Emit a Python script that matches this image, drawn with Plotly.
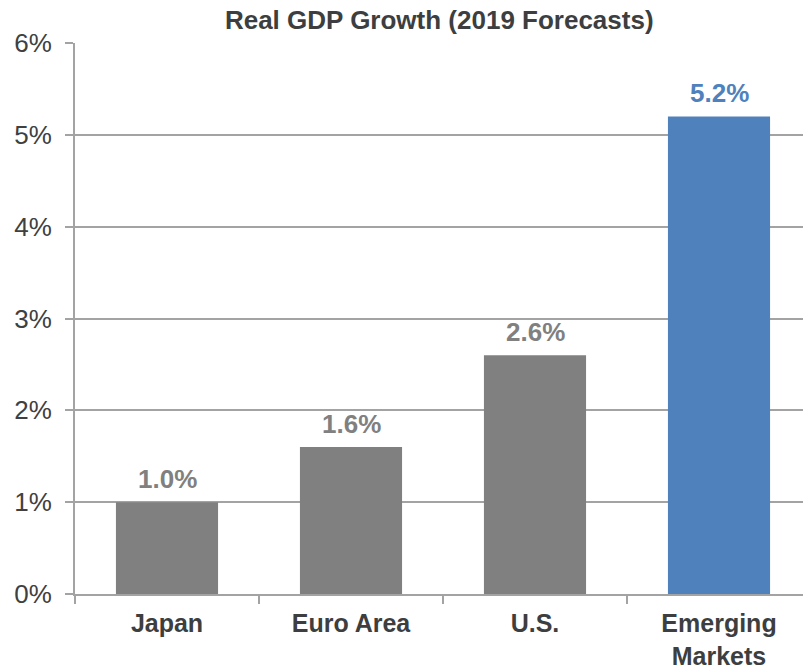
import plotly.graph_objects as go

# Real GDP growth forecasts for 2019, in percent
regions = ["Japan", "Euro Area", "U.S.", "Emerging<br>Markets"]
growth = [1.0, 1.6, 2.6, 5.2]
bar_colors = ["#808080", "#808080", "#808080", "#4F81BD"]
label_colors = ["#808080", "#808080", "#808080", "#4F81BD"]
y_ticks = [0, 1, 2, 3, 4, 5, 6]

AXIS_GREY = "#A3A3A3"
TEXT_DARK = "#3C3E40"
FONT = "Liberation Sans, Arial, sans-serif"

fig = go.Figure(
    go.Bar(
        x=regions,
        y=growth,
        marker=dict(color=bar_colors, line=dict(width=0)),
        width=0.555,
        hoverinfo="skip",
    )
)

# value labels above each bar
for reg, val, col in zip(regions, growth, label_colors):
    fig.add_annotation(
        x=reg,
        y=val,
        text=f"<b>{val:.1f}%</b>",
        showarrow=False,
        yanchor="bottom",
        yshift=6,
        font=dict(family=FONT, size=26, color=col),
    )

fig.update_layout(
    width=803,
    height=668,
    margin=dict(l=75, r=0, t=43, b=74, autoexpand=False),
    paper_bgcolor="white",
    plot_bgcolor="white",
    showlegend=False,
    title=dict(
        text="<b>Real GDP Growth (2019 Forecasts)</b>",
        x=0.547,
        xanchor="center",
        y=0.97,
        yanchor="middle",
        font=dict(family=FONT, size=26, color=TEXT_DARK),
    ),
)

fig.update_xaxes(
    type="category",
    range=[-0.5, 3.4565],
    automargin=False,
    showgrid=False,
    showline=True,
    linecolor=AXIS_GREY,
    linewidth=2,
    ticks="outside",
    tickson="boundaries",
    ticklen=8,
    tickwidth=2,
    tickcolor=AXIS_GREY,
    ticklabelstandoff=6,
    tickfont=dict(family=FONT, size=25, color=TEXT_DARK, weight="bold"),
    fixedrange=True,
)

fig.update_yaxes(
    range=[0, 6],
    automargin=False,
    tickvals=y_ticks,
    ticktext=[f"{v}%" for v in y_ticks],
    showgrid=True,
    gridcolor=AXIS_GREY,
    gridwidth=2,
    showline=True,
    linecolor=AXIS_GREY,
    linewidth=2,
    ticks="outside",
    ticklen=8,
    tickwidth=2,
    tickcolor=AXIS_GREY,
    ticklabelstandoff=8,
    tickfont=dict(family=FONT, size=26, color="#404040"),
    zeroline=False,
    fixedrange=True,
)

fig.write_html("out.html")
